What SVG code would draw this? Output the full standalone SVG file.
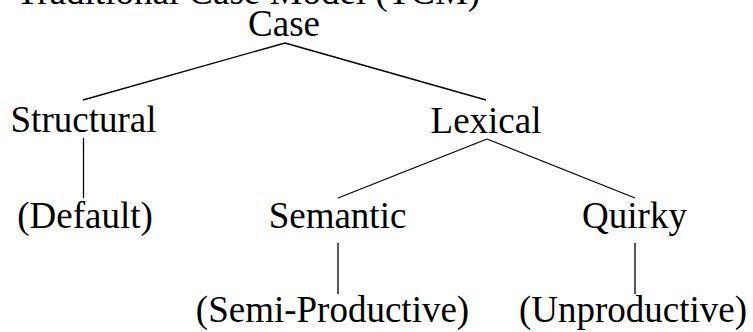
<svg xmlns="http://www.w3.org/2000/svg" width="753" height="332" viewBox="0 0 753 332">
<style>
text{font-family:"Liberation Serif","Times New Roman",serif;font-size:37px;fill:#000;text-anchor:middle}
.t{text-anchor:start}
line{stroke:#000;stroke-width:1.3}
</style>
<rect width="753" height="332" fill="#fff"/>
<text class="t" x="16" y="4">Traditional Case Model (TCM)</text>
<g id="connectors">
<line x1="285" y1="43" x2="83" y2="100"/>
<line x1="285" y1="43" x2="486" y2="100"/>
<line x1="83.5" y1="138" x2="83.5" y2="198"/>
<line x1="487" y1="139" x2="338" y2="198"/>
<line x1="487" y1="139" x2="635" y2="198"/>
<line x1="338" y1="243" x2="338" y2="294"/>
<line x1="635" y1="243" x2="635" y2="294"/>
</g>
<g id="case"><text x="284" y="36">Case</text></g>
<g id="structural"><text x="83.5" y="132">Structural</text></g>
<g id="lexical"><text x="486" y="133">Lexical</text></g>
<g id="default"><text x="85" y="228">(Default)</text></g>
<g id="semantic"><text x="337.5" y="228">Semantic</text></g>
<g id="quirky"><text x="634.5" y="228">Quirky</text></g>
<g id="semi-productive"><text x="332.5" y="322">(Semi-Productive)</text></g>
<g id="unproductive"><text x="633" y="322">(Unproductive)</text></g>
</svg>
